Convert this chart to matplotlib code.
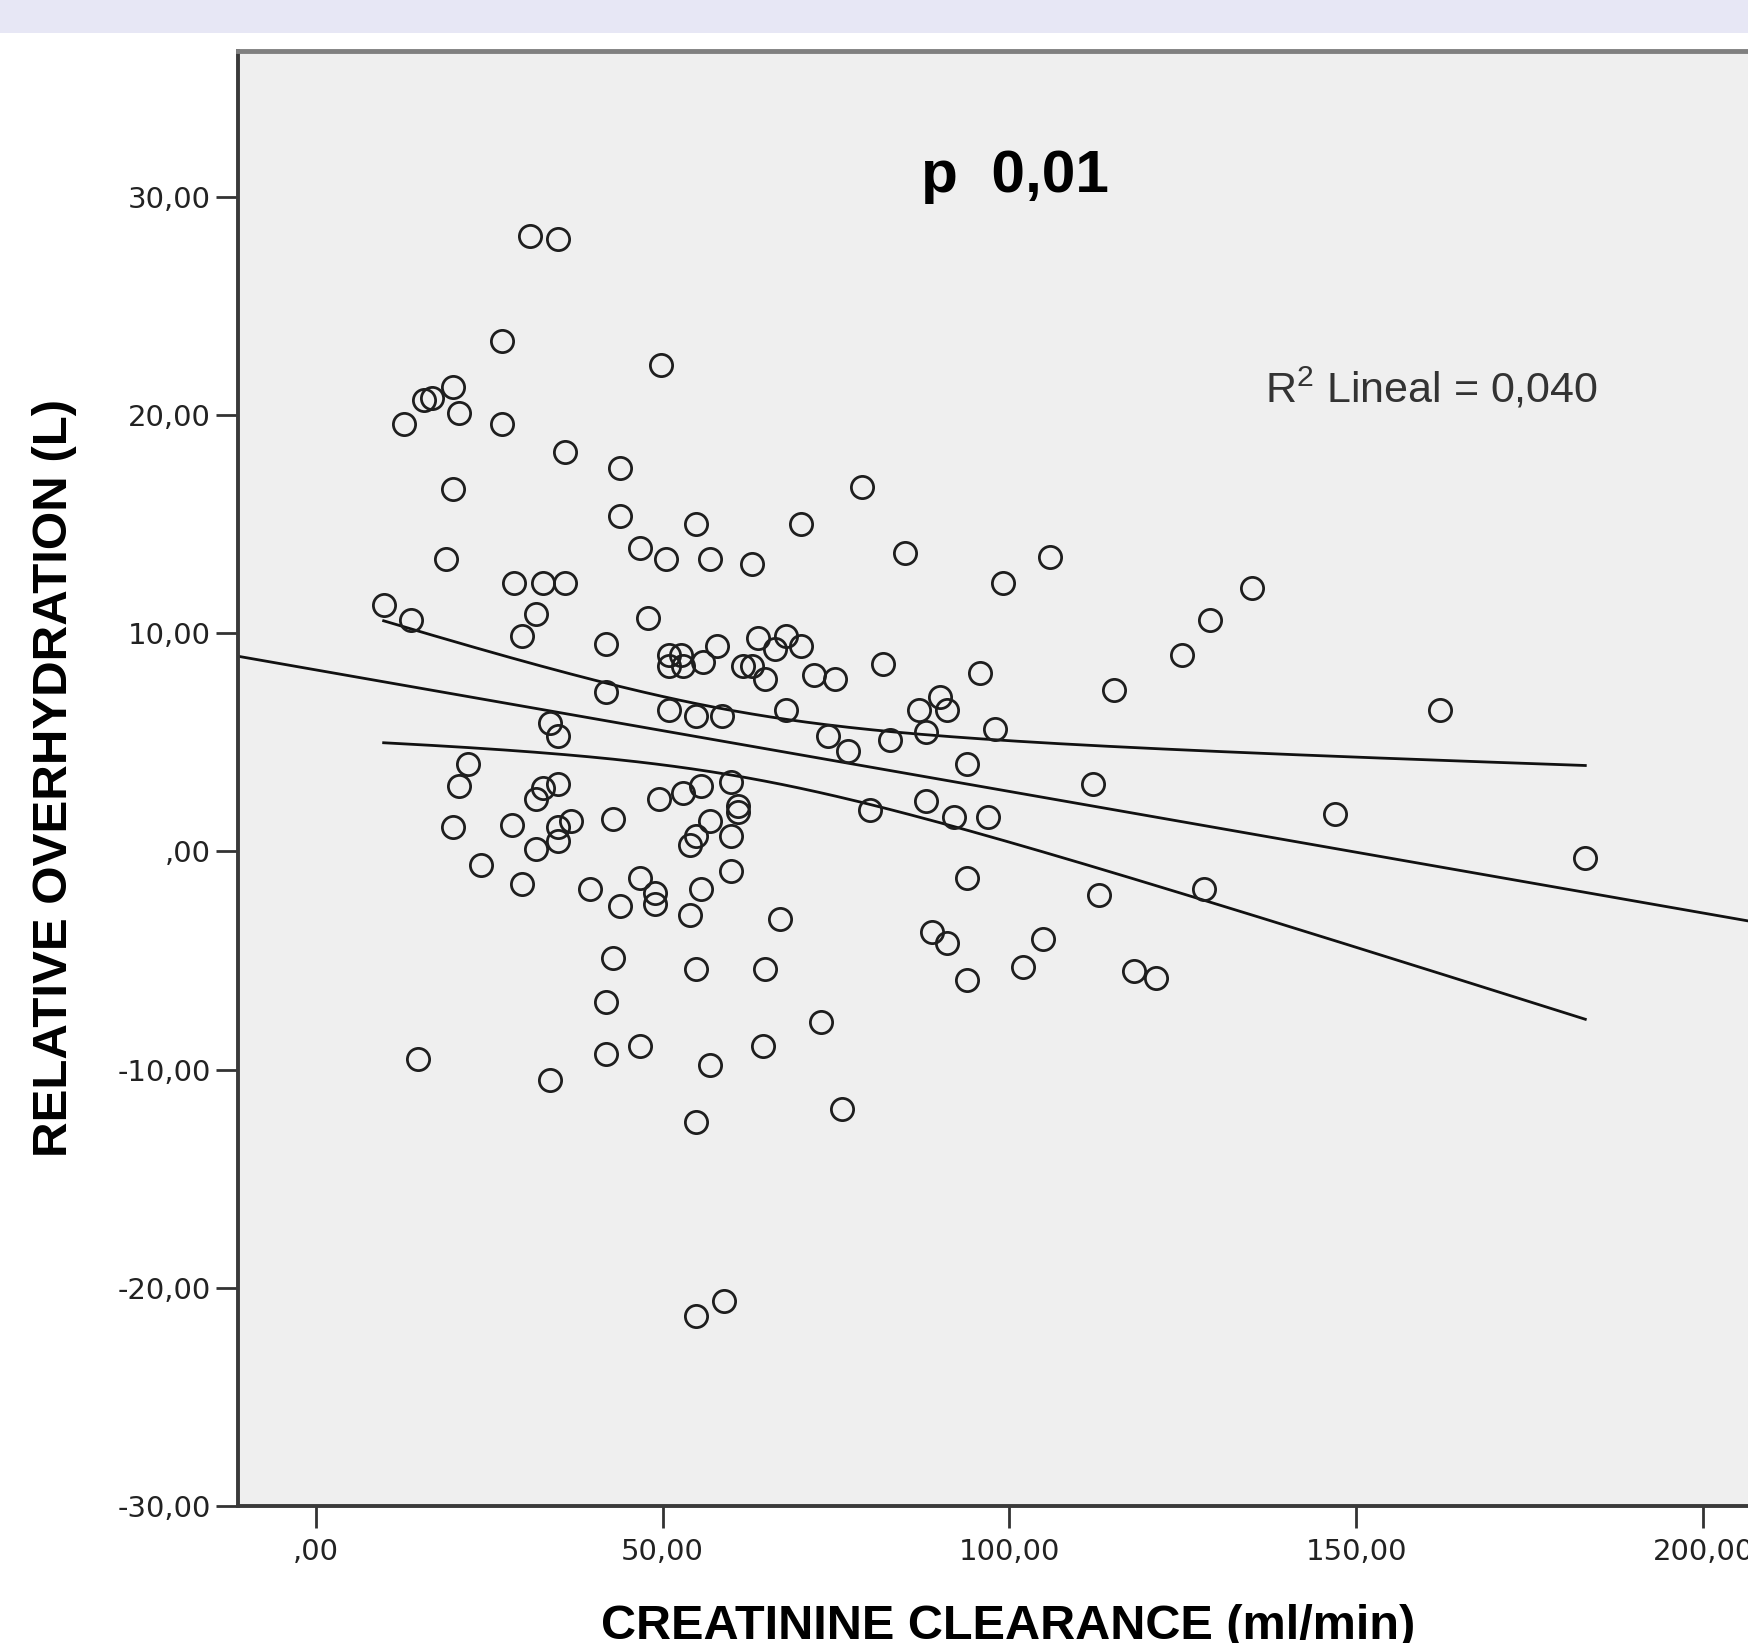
import numpy as np
import matplotlib
matplotlib.use("Agg")
from matplotlib import pyplot as plt
from matplotlib.patches import Rectangle

# creatinine clearance (ml/min) and relative overhydration (L)
clearance = [
    30.9, 34.9, 26.8, 49.8, 19.8, 15.6, 16.7, 12.7, 20.7, 26.8,
    35.9, 43.9, 19.8, 78.8, 43.9, 54.8, 69.9, 46.8, 50.5, 56.9,
    62.9, 84.9, 105.9, 18.8, 28.6, 32.8, 35.9, 99.0, 135.0, 9.8,
    13.8, 31.8, 47.9, 128.9, 29.7, 41.8, 63.8, 67.8, 69.9, 66.2,
    57.9, 51.0, 52.6, 51.0, 52.9, 55.8, 61.6, 62.9, 64.8, 71.9,
    74.8, 81.8, 95.8, 124.9, 115.0, 162.1, 41.8, 90.0, 87.0, 91.0,
    51.0, 54.8, 58.5, 67.8, 33.8, 34.9, 87.9, 97.9, 73.8, 82.8,
    76.8, 93.9, 21.9, 20.7, 32.8, 34.9, 31.8, 59.8, 52.9, 49.5,
    55.6, 60.9, 60.9, 56.9, 112.1, 146.9, 87.9, 79.9, 92.0, 96.9,
    19.8, 28.3, 36.8, 34.9, 42.8, 34.9, 31.8, 54.8, 53.9, 59.8,
    183.0, 23.8, 29.7, 39.5, 46.8, 48.9, 48.9, 43.9, 55.6, 59.8,
    93.9, 128.0, 112.9, 53.9, 66.9, 88.9, 91.0, 104.8, 42.8, 54.8,
    64.8, 101.9, 93.9, 118.0, 121.1, 41.8, 72.8, 46.8, 41.8, 64.5,
    14.8, 56.9, 33.8, 75.9, 54.8, 58.8, 54.8,
]
overhydration = [
    28.2, 28.1, 23.4, 22.3, 21.3, 20.7, 20.8, 19.6, 20.1, 19.6,
    18.3, 17.6, 16.6, 16.7, 15.4, 15.0, 15.0, 13.9, 13.4, 13.4,
    13.2, 13.7, 13.5, 13.4, 12.3, 12.3, 12.3, 12.3, 12.1, 11.3,
    10.6, 10.9, 10.7, 10.6, 9.9, 9.5, 9.8, 9.9, 9.4, 9.3,
    9.4, 9.0, 9.0, 8.5, 8.5, 8.7, 8.5, 8.5, 7.9, 8.1,
    7.9, 8.6, 8.2, 9.0, 7.4, 6.5, 7.3, 7.1, 6.5, 6.5,
    6.5, 6.2, 6.2, 6.5, 5.9, 5.3, 5.5, 5.6, 5.3, 5.1,
    4.6, 4.0, 4.0, 3.0, 2.9, 3.1, 2.4, 3.2, 2.7, 2.4,
    3.0, 2.1, 1.8, 1.4, 3.1, 1.7, 2.3, 1.9, 1.6, 1.6,
    1.1, 1.2, 1.4, 1.1, 1.5, 0.5, 0.1, 0.7, 0.3, 0.7,
    -0.3, -0.6, -1.5, -1.7, -1.2, -1.9, -2.4, -2.5, -1.7, -0.9,
    -1.2, -1.7, -2.0, -2.9, -3.1, -3.7, -4.2, -4.0, -4.9, -5.4,
    -5.4, -5.3, -5.9, -5.5, -5.8, -6.9, -7.8, -8.9, -9.3, -8.9,
    -9.5, -9.8, -10.5, -11.8, -12.4, -20.6, -21.3,
]

x_ticks = [0, 50, 100, 150, 200]
x_tick_labels = [",00", "50,00", "100,00", "150,00", "200,00"]
y_ticks = [30, 20, 10, 0, -10, -20, -30]
y_tick_labels = ["30,00", "20,00", "10,00", ",00", "-10,00", "-20,00", "-30,00"]

x = np.array(clearance)
y = np.array(overhydration)

# linear fit + 95% confidence band of the mean
slope, intercept = np.polyfit(x, y, 1)
n = len(x)
resid = y - (intercept + slope * x)
s = np.sqrt(np.sum(resid ** 2) / (n - 2))
sxx = np.sum((x - x.mean()) ** 2)
t_crit = 1.978

W, H = 1749, 1643
fig = plt.figure(figsize=(W / 100, H / 100), dpi=100)
fig.patch.set_facecolor("white")
fig.patches.append(Rectangle((0, 1 - 33 / H), 1, 33 / H, transform=fig.transFigure,
                             facecolor="#e7e7f5", edgecolor="none", zorder=0))

ax = fig.add_axes([237.6 / W, 1 - 1505.8 / H, (1785 - 237.6) / W, (1505.8 - 51) / H])
ax.set_facecolor("#efefef")
ax.set_xlim(-11.25, -11.25 + (1785 - 237.6) / 6.938)
ax.set_ylim(-30, 36.7)

xx = np.linspace(-12, 215, 200)
ax.plot(xx, intercept + slope * xx, color="#111111", lw=2.0, zorder=2)
xb = np.linspace(x.min(), x.max(), 200)
half = t_crit * s * np.sqrt(1 / n + (xb - x.mean()) ** 2 / sxx)
ax.plot(xb, intercept + slope * xb + half, color="#111111", lw=2.0, zorder=2)
ax.plot(xb, intercept + slope * xb - half, color="#111111", lw=2.0, zorder=2)

ax.plot(x, y, linestyle="none", marker="o", markersize=16, markerfacecolor="none",
        markeredgecolor="#1e1e1e", markeredgewidth=2.0, zorder=3)

ax.set_xticks(x_ticks)
ax.set_xticklabels(x_tick_labels)
ax.set_yticks(y_ticks)
ax.set_yticklabels(y_tick_labels)
ax.tick_params(axis="both", direction="out", length=16, width=2.0, color="#333333",
               labelsize=21, labelcolor="#222222")
ax.tick_params(axis="x", pad=7)
ax.tick_params(axis="y", pad=3)
for lab in ax.get_xticklabels() + ax.get_yticklabels():
    lab.set_family("DejaVu Sans")

ax.spines["left"].set_linewidth(2.8)
ax.spines["left"].set_color("#3a3a3a")
ax.spines["bottom"].set_linewidth(2.8)
ax.spines["bottom"].set_color("#3a3a3a")
ax.spines["top"].set_linewidth(3.5)
ax.spines["top"].set_color("#808080")
ax.spines["right"].set_visible(False)

ax.text(1015 / W, 1 - 192 / H, "p  0,01", transform=fig.transFigure, ha="center",
        va="baseline", fontsize=43.5, fontweight="bold", family="Liberation Sans", color="black")
plt.rcParams["mathtext.fontset"] = "custom"
plt.rcParams["mathtext.rm"] = "Liberation Sans"
ax.text(1265 / W, 1 - 402 / H, r"R$^{\mathregular{2}}$ Lineal = 0,040", transform=fig.transFigure,
        ha="left", va="baseline", fontsize=31, family="Liberation Sans", color="#333333")

fig.text(55 / W, 1 - 778 / H, "RELATIVE OVERHYDRATION (L)", rotation=90, ha="center", va="center",
         fontsize=35.5, fontweight="bold", family="Liberation Sans", color="black")
fig.text(1008 / W, 1 - 1604 / H, "CREATININE CLEARANCE (ml/min)", ha="center", va="top",
         fontsize=35, fontweight="bold", family="Liberation Sans", color="black")

fig.savefig("out.png", dpi=100)
